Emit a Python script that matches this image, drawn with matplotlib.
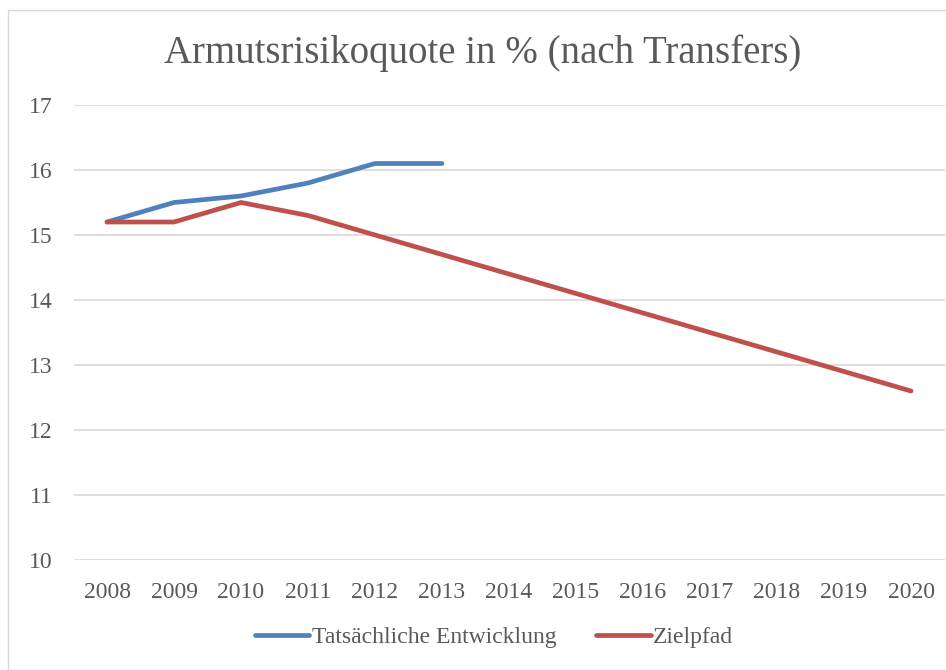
import matplotlib
matplotlib.use('Agg')
import matplotlib.pyplot as plt
from matplotlib.patches import Rectangle

jahre = ['2008', '2009', '2010', '2011', '2012', '2013', '2014',
         '2015', '2016', '2017', '2018', '2019', '2020']
tatsaechlich = [15.2, 15.5, 15.6, 15.8, 16.1, 16.1]
zielpfad = [15.2, 15.2, 15.5, 15.3, 15.0, 14.7, 14.4, 14.1, 13.8, 13.5, 13.2, 12.9, 12.6]
y_ticks = [10, 11, 12, 13, 14, 15, 16, 17]

plt.rcParams['font.family'] = ['Liberation Serif', 'DejaVu Serif']
grau = '#595959'

fig = plt.figure(figsize=(9.46, 6.7), dpi=100)
fig.patches.append(Rectangle((8 / 946, 0), 1.0, 1 - 10 / 670, transform=fig.transFigure,
                             fill=False, edgecolor='#d9d9d9', linewidth=1))
ax = fig.add_axes([73.5 / 946, 110 / 670, 871 / 946, 455 / 670])

x = list(range(len(jahre)))
ax.plot(x[:len(tatsaechlich)], tatsaechlich, color='#4F81BD', linewidth=3.4,
        solid_capstyle='round', label='Tatsächliche Entwicklung')
ax.plot(x, zielpfad, color='#C0504D', linewidth=3.4,
        solid_capstyle='round', label='Zielpfad')

ax.set_xlim(-0.5, len(jahre) - 0.5)
ax.set_ylim(10, 17)
ax.set_yticks(y_ticks)
ax.set_xticks(x)
ax.set_xticklabels(jahre)
ax.tick_params(length=0, labelsize=17, colors=grau)
ax.tick_params(axis='x', pad=16)
ax.tick_params(axis='y', pad=15)
ax.grid(axis='y', color='#d9d9d9', linewidth=1.2)
ax.set_axisbelow(True)
for s in ax.spines.values():
    s.set_visible(False)

fig.text(483 / 946, 1 - 53 / 670, 'Armutsrisikoquote in % (nach Transfers)',
         ha='center', va='center', fontsize=28, color=grau)

leg = fig.legend(loc='center', bbox_to_anchor=(494 / 946, 1 - 637 / 670), ncol=2,
                 frameon=False, fontsize=17, handlelength=2.3, handletextpad=0.1,
                 columnspacing=1.7)
for t in leg.get_texts():
    t.set_color(grau)

fig.savefig('out.png', dpi=100)
